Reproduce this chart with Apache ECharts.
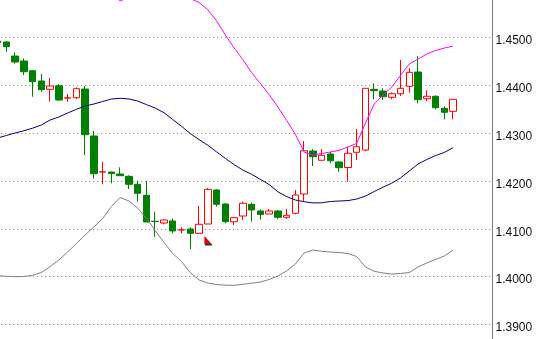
<!DOCTYPE html>
<html>
<head>
<meta charset="utf-8">
<script src="https://cdn.jsdelivr.net/npm/echarts@6/dist/echarts.min.js"></script>
<style>
html,body{margin:0;padding:0;background:#fff;}
#chart{width:538px;height:339px;}
</style>
</head>
<body>
<div id="chart"></div>
<script>
// Bar values (first bar is only partly visible at the left edge)
const opens = [1.44927,1.44906,1.44613,1.44509,1.44306,1.44091,1.43917,1.43992,1.43735,1.43741,1.43923,1.42941,1.42188,1.42188,1.42146,1.42098,1.41931,1.41701,1.41157,1.41122,1.41164,1.40975,1.40996,1.40906,1.41101,1.41812,1.41519,1.41149,1.41268,1.41513,1.41373,1.41310,1.41373,1.41241,1.41325,1.41728,1.42627,1.42433,1.42564,1.42397,1.42282,1.42600,1.42648,1.43917,1.43881,1.43750,1.43825,1.43980,1.44279,1.43721,1.43771,1.43520,1.43457];
const closes = [1.44890,1.44808,1.44488,1.44285,1.44076,1.43909,1.43986,1.43693,1.43738,1.43930,1.42968,1.42153,1.42191,1.42153,1.42111,1.41931,1.41743,1.41143,1.41154,1.41185,1.40955,1.40978,1.40906,1.41095,1.41826,1.41513,1.41149,1.41233,1.41534,1.41394,1.41299,1.41373,1.41241,1.41283,1.41707,1.42633,1.42508,1.42537,1.42424,1.42278,1.42579,1.42717,1.43938,1.43888,1.43762,1.43825,1.43938,1.44272,1.43700,1.43771,1.43532,1.43436,1.43708];
const lows = [1.44880,1.44703,1.44452,1.44216,1.43762,1.43867,1.43658,1.43679,1.43658,1.43714,1.42543,1.42048,1.41931,1.41952,1.42111,1.41833,1.41567,1.41140,1.40835,1.41095,1.40906,1.40906,1.40578,1.40892,1.41098,1.41463,1.41116,1.41080,1.41185,1.41149,1.41195,1.41307,1.41199,1.41205,1.41304,1.41582,1.42313,1.42431,1.42370,1.42194,1.41985,1.42439,1.42621,1.43708,1.43693,1.43708,1.43777,1.43850,1.43624,1.43666,1.43499,1.43290,1.43290];
const highs = [1.44950,1.44927,1.44691,1.44565,1.44321,1.44237,1.44153,1.44028,1.43819,1.43959,1.43986,1.43045,1.42403,1.42190,1.42286,1.42119,1.42006,1.42006,1.41358,1.41199,1.41220,1.41032,1.41032,1.41477,1.41854,1.41833,1.41534,1.41236,1.41567,1.41546,1.41404,1.41414,1.41394,1.41414,1.41812,1.42836,1.42669,1.42669,1.42612,1.42418,1.42717,1.43087,1.43940,1.44042,1.43938,1.43854,1.44530,1.44356,1.44613,1.43896,1.43792,1.43562,1.43710];

// Band lines
const upperBand = [1.45826,1.45889,1.46008,1.46100,1.46179,1.46254,1.46342,1.46328,1.46328,1.46305,1.46265,1.46181,1.46108,1.45962,1.45763,1.45847,1.45909,1.45972,1.46077,1.46119,1.46056,1.45951,1.45815,1.45732,1.45583,1.45351,1.45054,1.44783,1.44540,1.44266,1.44040,1.43808,1.43547,1.43269,1.42974,1.42606,1.42543,1.42575,1.42606,1.42642,1.42711,1.42788,1.43212,1.43610,1.43798,1.43965,1.44206,1.44446,1.44550,1.44655,1.44728,1.44780,1.44822];
const middleBand = [1.42899,1.42951,1.43003,1.43051,1.43104,1.43171,1.43275,1.43338,1.43422,1.43499,1.43568,1.43610,1.43662,1.43714,1.43729,1.43716,1.43672,1.43597,1.43526,1.43428,1.43286,1.43143,1.42993,1.42867,1.42748,1.42610,1.42474,1.42343,1.42230,1.42140,1.42035,1.41927,1.41774,1.41674,1.41603,1.41567,1.41542,1.41544,1.41571,1.41582,1.41590,1.41623,1.41686,1.41780,1.41870,1.41954,1.42063,1.42209,1.42355,1.42449,1.42533,1.42596,1.42696];
const lowerBand = [1.40020,1.40007,1.39999,1.40003,1.40028,1.40087,1.40208,1.40348,1.40515,1.40693,1.40871,1.41038,1.41216,1.41467,1.41655,1.41582,1.41435,1.41216,1.40965,1.40714,1.40484,1.40317,1.40087,1.39930,1.39867,1.39836,1.39821,1.39819,1.39840,1.39863,1.39888,1.39940,1.40014,1.40118,1.40264,1.40494,1.40557,1.40530,1.40515,1.40505,1.40484,1.40421,1.40202,1.40112,1.40076,1.40055,1.40066,1.40087,1.40202,1.40285,1.40359,1.40432,1.40557];

// Arrow marker (bar index, price)
const arrowBar = [24];
const arrowPrice = [1.40766];

// Price axis ticks
const yMin = 1.38, yMax = 1.46, yStep = 0.01;
const emptySlots = 4;

const categories = [];
for (let i = 0; i < opens.length + emptySlots; i++) categories.push(String(i));
const candleData = opens.map((o, i) => [o, closes[i], lows[i], highs[i]]);

const chart = echarts.init(document.getElementById('chart'), null, {renderer: 'canvas'});
chart.setOption({
  animation: false,
  backgroundColor: '#ffffff',
  grid: {left: -6.85, right: 45.5, top: -10.3, bottom: -33.3, containLabel: false, outerBoundsMode: 'none'},
  xAxis: {
    type: 'category', data: categories, boundaryGap: true,
    axisLine: {show: false}, axisTick: {show: false}, axisLabel: {show: false}, splitLine: {show: false}
  },
  yAxis: {
    type: 'value', position: 'right', min: yMin, max: yMax, interval: yStep, scale: true,
    axisLine: {show: true, lineStyle: {color: '#808080', width: 1}},
    axisTick: {show: false},
    axisLabel: {
      show: true, margin: 3, color: '#111', fontFamily: 'Liberation Sans, Arial, sans-serif', fontSize: 12,
      verticalAlign: 'top', lineHeight: 7,
      formatter: v => v.toFixed(4)
    },
    splitLine: {show: true, lineStyle: {color: '#808080', width: 1, type: [1, 3]}}
  },
  series: [
    {
      type: 'candlestick', data: candleData, barWidth: 7,
      itemStyle: {color: '#ffffff', color0: '#008000', borderColor: '#ff0000', borderColor0: '#008000', borderWidth: 1}
    },
    {type: 'line', data: middleBand, showSymbol: false, symbol: 'none', lineStyle: {color: '#000080', width: 1}},
    {type: 'line', data: upperBand, showSymbol: false, symbol: 'none', lineStyle: {color: '#ff00ff', width: 1}},
    {type: 'line', data: lowerBand, showSymbol: false, symbol: 'none', lineStyle: {color: '#808080', width: 1}},
    {
      type: 'scatter', data: arrowBar.map((b, i) => [b, arrowPrice[i]]),
      symbol: 'path://M0,0 L0,8 L8,8 Z', symbolSize: [8, 9], symbolOffset: [1, 1],
      itemStyle: {color: '#000000'}, silent: true
    },
    {
      type: 'scatter', data: arrowBar.map((b, i) => [b, arrowPrice[i]]),
      symbol: 'path://M0,0 L0,8 L8,8 Z', symbolSize: [7, 8],
      itemStyle: {color: '#ff0000'}, silent: true
    }
  ]
});
</script>
</body>
</html>
